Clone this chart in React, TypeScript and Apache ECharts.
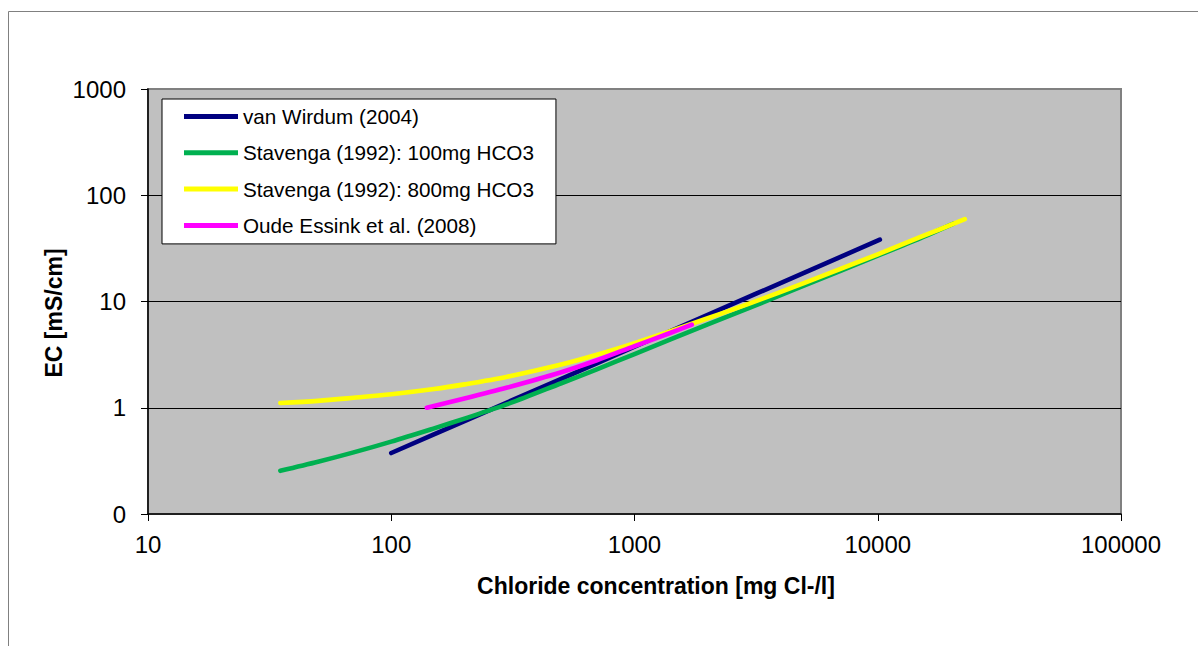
import React, { useEffect, useRef } from "react";
import * as echarts from "echarts";

const FONT = "'Liberation Sans', Arial, Helvetica, sans-serif";

// Tick labels
const xTicks = [10, 100, 1000, 10000, 100000];
const yTicks = [0.1, 1, 10, 100, 1000];
const yTickLabels = ["0", "1", "10", "100", "1000"];

const xTitle = "Chloride concentration [mg Cl-/l]";
const yTitle = "EC [mS/cm]";

// Series names
const names = [
  "van Wirdum (2004)",
  "Stavenga (1992): 100mg HCO3",
  "Stavenga (1992): 800mg HCO3",
  "Oude Essink et al. (2008)",
];
const colors = ["#000080", "#00B050", "#FFFF00", "#FF00FF"];

// van Wirdum (2004)
const vwX = [100, 200, 500, 1000, 2000, 5000, 10200];
const vwY = [0.375, 0.75, 1.87, 3.75, 7.5, 18.7, 38.2];

// Stavenga (1992): 100mg HCO3
const s100X = [35, 50, 70, 100, 150, 200, 300, 500, 700, 1000, 2000, 3000, 5000, 10000, 15000, 20500];
const s100Y = [0.255, 0.31, 0.38, 0.48, 0.64, 0.79, 1.08, 1.7, 2.3, 3.2, 6.1, 8.8, 14.2, 27, 39.5, 54];

// Stavenga (1992): 800mg HCO3
const s800X = [35, 50, 70, 100, 150, 200, 300, 500, 700, 1000, 2000, 3000, 5000, 10000, 15000, 22800];
const s800Y = [1.11, 1.16, 1.24, 1.34, 1.5, 1.66, 1.96, 2.55, 3.15, 4.05, 6.95, 9.65, 15, 27.8, 40.5, 59.5];

// Oude Essink et al. (2008)
const oeX = [140, 200, 300, 500, 700, 1000, 1400, 1720];
const oeY = [1.0, 1.22, 1.55, 2.16, 2.8, 3.8, 5.05, 6.05];

const seriesX = [vwX, s100X, s800X, oeX];
const seriesY = [vwY, s100Y, s800Y, oeY];

export default function App() {
  const ref = useRef<HTMLDivElement>(null);
  useEffect(() => {
    const chart = echarts.init(ref.current as HTMLDivElement, null, { renderer: "svg" });
    const series = names.map((name, i) => ({
      name,
      type: "line",
      symbol: "none",
      smooth: 0.3,
      data: seriesX[i].map((x, j) => [x, seriesY[i][j]]),
      lineStyle: { width: 4.6, color: colors[i], cap: "round", join: "round" },
      itemStyle: { color: colors[i] },
      emphasis: { disabled: true },
    }));
    chart.setOption({
      animation: false,
      backgroundColor: "#ffffff",
      grid: {
        left: 148,
        top: 89,
        right: 77,
        bottom: 132,
        show: true,
        backgroundColor: "#C0C0C0",
        borderColor: "#808080",
        borderWidth: 2,
      },
      xAxis: {
        type: "log",
        logBase: 10,
        min: xTicks[0],
        max: xTicks[xTicks.length - 1],
        axisLine: { show: true, onZero: false, lineStyle: { color: "#000", width: 1.5 } },
        axisTick: { show: true, length: 7, inside: false, lineStyle: { color: "#000" } },
        axisLabel: {
          fontSize: 24,
          color: "#000",
          fontFamily: FONT,
          margin: 18,
          formatter: (v: number) => String(Math.round(v)),
        },
        splitLine: { show: false },
        minorTick: { show: false },
      },
      yAxis: {
        type: "log",
        logBase: 10,
        min: yTicks[0],
        max: yTicks[yTicks.length - 1],
        axisLine: { show: true, onZero: false, lineStyle: { color: "#000", width: 1.5 } },
        axisTick: { show: true, length: 7, inside: false, lineStyle: { color: "#000" } },
        axisLabel: {
          fontSize: 24,
          color: "#000",
          fontFamily: FONT,
          margin: 22,
          formatter: (v: number) => {
            let best = 0;
            for (let k = 0; k < yTicks.length; k++) {
              if (Math.abs(Math.log10(yTicks[k]) - Math.log10(v)) < Math.abs(Math.log10(yTicks[best]) - Math.log10(v))) best = k;
            }
            return yTickLabels[best];
          },
        },
        splitLine: { show: true, showMinLine: false, showMaxLine: false, lineStyle: { color: "#000", width: 1 } },
        minorTick: { show: false },
      },
      legend: {
        left: 162,
        top: 99,
        orient: "vertical",
        backgroundColor: "#ffffff",
        borderColor: "#000",
        borderWidth: 1,
        padding: [7, 22, 8, 22],
        itemWidth: 54,
        itemHeight: 5,
        itemGap: 15.3,
        icon: "rect",
        selectedMode: false,
        textStyle: { fontSize: 20.7, lineHeight: 20, color: "#000", fontFamily: FONT },
        data: names,
      },
      graphic: [
        {
          type: "rect",
          silent: true,
          z: -10,
          shape: { x: 8.5, y: 11.5, width: 1400, height: 1000 },
          style: { fill: "none", stroke: "#808080", lineWidth: 1 },
        },
        {
          type: "text",
          x: 656,
          y: 586,
          style: {
            text: xTitle,
            font: `bold 23px ${FONT}`,
            fill: "#000",
            align: "center",
            verticalAlign: "middle",
          },
        },
        {
          type: "text",
          x: 54,
          y: 313,
          rotation: Math.PI / 2,
          style: {
            text: yTitle,
            font: `bold 23px ${FONT}`,
            fill: "#000",
            align: "center",
            verticalAlign: "middle",
          },
        },
      ],
      series,
    });
    return () => chart.dispose();
  }, []);
  return (
    <div
      ref={ref}
      style={{ position: "absolute", left: 0, top: 0, width: 1198, height: 646, background: "#fff" }}
    />
  );
}
